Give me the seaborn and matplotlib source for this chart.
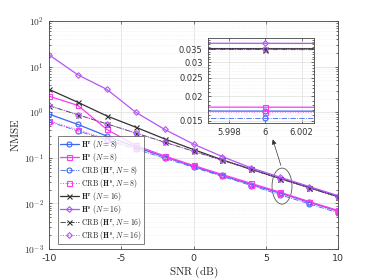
import numpy as np
import matplotlib
matplotlib.use('Agg')
import matplotlib.pyplot as plt
import seaborn as sns
import pandas as pd
from matplotlib.patches import Ellipse
from matplotlib.ticker import FuncFormatter, LogLocator, FixedLocator, NullFormatter

# data
snr = [-10, -8, -6, -4, -2, 0, 2, 4, 6, 8, 10]
hr8 = [0.91, 0.54, 0.30, 0.173, 0.105, 0.065, 0.041, 0.026, 0.0168, 0.0106, 0.0068]
hs8 = [2.26, 1.41, 0.42, 0.187, 0.11, 0.068, 0.043, 0.0275, 0.0176, 0.011, 0.007]
crb_r8 = [0.62, 0.39, 0.246, 0.155, 0.098, 0.062, 0.039, 0.0246, 0.0154, 0.0098, 0.0062]
crb_s8 = [0.65, 0.41, 0.26, 0.164, 0.104, 0.066, 0.0415, 0.026, 0.0166, 0.0105, 0.0066]
hr16 = [3.18, 1.65, 0.83, 0.47, 0.26, 0.152, 0.09, 0.056, 0.0352, 0.0222, 0.014]
hs16 = [18.2, 6.6, 3.18, 1.0, 0.42, 0.20, 0.106, 0.06, 0.0375, 0.0235, 0.0148]
crb_r16 = [1.39, 0.88, 0.555, 0.35, 0.22, 0.139, 0.088, 0.0555, 0.0348, 0.022, 0.0139]
crb_s16 = [1.41, 0.89, 0.56, 0.353, 0.222, 0.14, 0.0885, 0.0558, 0.035, 0.0221, 0.014]

labels = [r'$\mathbf{H}^{\mathbf{r}}\ (N=8)$', r'$\mathbf{H}^{\mathbf{s}}\ (N=8)$',
          r'$\mathrm{CRB}\ (\mathbf{H}^{\mathbf{r}}, N=8)$', r'$\mathrm{CRB}\ (\mathbf{H}^{\mathbf{s}}, N=8)$',
          r'$\mathbf{H}^{\mathbf{r}}\ (N=16)$', r'$\mathbf{H}^{\mathbf{s}}\ (N=16)$',
          r'$\mathrm{CRB}\ (\mathbf{H}^{\mathbf{r}}, N=16)$', r'$\mathrm{CRB}\ (\mathbf{H}^{\mathbf{s}}, N=16)$']
series = [hr8, hs8, crb_r8, crb_s8, hr16, hs16, crb_r16, crb_s16]

blue = '#3d66f5'
mag = '#fa3cf0'
vio = '#b455f5'
blk = '#333333'
styles = [(blue, 'o', '-', 0.9), (mag, 's', '-', 0.9), (blue, 'o', '-.', 0.6), (mag, 's', ':', 0.7),
          (blk, 'x', '-', 0.9), (vio, 'D', '-', 0.9), (blk, 'x', '-.', 0.6), (vio, 'D', ':', 0.7)]

sns.set_style('ticks')
plt.rcParams['mathtext.fontset'] = 'cm'
plt.rcParams['font.family'] = ['DejaVu Sans']
plt.rcParams['axes.unicode_minus'] = False

fig = plt.figure(figsize=(3.74, 2.8), dpi=100)
ax = fig.add_axes([0.131, 0.1107, 0.773, 0.814])
axin = fig.add_axes([0.555, 0.5596, 0.285, 0.3036])


def draw(a, ms):
    for y, lab, (c, m, ls, lw) in zip(series, labels, styles):
        ms_ = ms * 0.8 if m == 'D' else ms
        sns.lineplot(x=snr, y=y, ax=a, color=c, marker=m, linestyle=ls, linewidth=lw,
                     markersize=ms_, markerfacecolor='none', markeredgecolor=c,
                     markeredgewidth=0.8, label=lab, legend=False)


draw(ax, 3.6)
draw(axin, 3.6)

for a in (ax, axin):
    a.set_yscale('log')
    a.grid(True, which='major', color='#dddddd', linewidth=0.5)
    a.grid(True, which='minor', color='#e8e8e8', linewidth=0.4, linestyle=':')
    a.tick_params(direction='in', which='both', top=True, right=True, labelsize=6.8,
                  colors='#333333', length=2.5, width=0.5)
    a.tick_params(which='minor', length=1.5)
    for s in a.spines.values():
        s.set_color('#444444')
        s.set_linewidth(0.6)

ax.set_xlim(-10, 10)
ax.set_ylim(1e-3, 1e2)
ax.set_xticks([-10, -5, 0, 5, 10])
ax.yaxis.set_major_locator(LogLocator(base=10, numticks=10))
ax.yaxis.set_minor_locator(LogLocator(base=10, subs=np.arange(2, 10), numticks=20))
ax.yaxis.set_major_formatter(FuncFormatter(lambda v, p: r'$\mathsf{10^{%d}}$' % round(np.log10(v))))
ax.set_xlabel(r'$\mathrm{SNR\ (dB)}$', fontsize=8, labelpad=1)
ax.set_ylabel(r'$\mathrm{NMSE}$', fontsize=8, labelpad=2)

axin.set_xlim(5.9968, 6.0027)
axin.set_ylim(0.01454, 0.0398)
axin.set_xticks([5.998, 6, 6.002])
axin.set_xticklabels(['5.998', '6', '6.002'])
axin.yaxis.set_major_locator(FixedLocator([0.015, 0.02, 0.025, 0.03, 0.035]))
axin.yaxis.set_major_formatter(FuncFormatter(lambda v, p: ('%g' % v)))
axin.yaxis.set_minor_locator(FixedLocator(np.arange(0.015, 0.04, 0.001)))
axin.yaxis.set_minor_formatter(NullFormatter())
axin.tick_params(labelsize=6)

leg = ax.legend(loc='lower left', bbox_to_anchor=(0.025, 0.015), fontsize=5.5, frameon=True,
                fancybox=False, edgecolor='#444444', handlelength=2.5, handletextpad=0.3,
                labelspacing=0.0, borderpad=0.25, borderaxespad=0.2)
leg.get_frame().set_linewidth(0.6)

ell = Ellipse((0.806, 0.276), 0.069, 0.158, transform=ax.transAxes, fill=False,
              edgecolor='#555555', linewidth=0.6)
ax.add_patch(ell)
ax.annotate('', xy=(0.771, 0.4925), xytext=(0.805, 0.355), xycoords='axes fraction',
            arrowprops=dict(arrowstyle='-|>', color='#333333', lw=0.5, mutation_scale=7))

fig.savefig('out.png', dpi=100)
